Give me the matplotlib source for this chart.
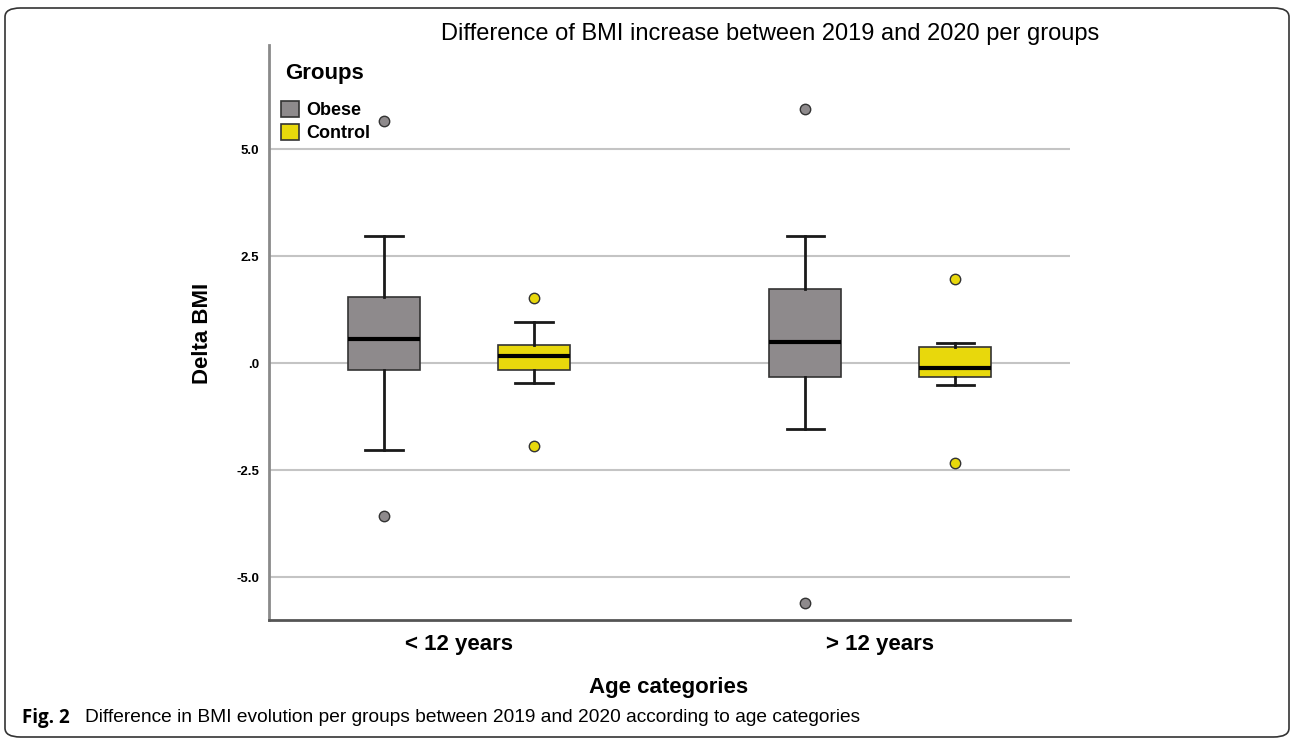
import numpy as np
import matplotlib
matplotlib.use("Agg")
import matplotlib.pyplot as plt
from matplotlib.patches import FancyBboxPatch, Patch

# box statistics read per age category and group
categories = ["< 12 years", "> 12 years"]
groups = ["Obese", "Control"]
group_colors = ["#8e8a8c", "#e8d80c"]

obese_whislo = [-2.03, -1.54]
obese_q1 = [-0.16, -0.33]
obese_med = [0.56, 0.49]
obese_q3 = [1.54, 1.73]
obese_whishi = [2.97, 2.97]
obese_fliers = [[5.65, -3.57], [5.93, -5.61]]

control_whislo = [-0.47, -0.51]
control_q1 = [-0.16, -0.33]
control_med = [0.16, -0.12]
control_q3 = [0.42, 0.37]
control_whishi = [0.96, 0.47]
control_fliers = [[1.52, -1.94], [1.96, -2.34]]

yticks = [-5.0, -2.5, 0.0, 2.5, 5.0]
ytick_labels = ["-5.0", "-2.5", ".0", "2.5", "5.0"]

narrow = ["Liberation Sans Narrow", "Liberation Sans", "DejaVu Sans"]
plt.rcParams["font.family"] = ["Liberation Sans", "DejaVu Sans"]

W, H = 1290, 739
fig = plt.figure(figsize=(W / 100, H / 100), dpi=100)
ax = fig.add_axes([269 / W, 1 - 620 / H, 801 / W, 575 / H])

def stats(whislo, q1, med, q3, whishi, fliers):
    out = []
    for i in range(len(categories)):
        out.append(dict(whislo=whislo[i], q1=q1[i], med=med[i], q3=q3[i],
                        whishi=whishi[i], fliers=fliers[i]))
    return out

all_stats = [
    stats(obese_whislo, obese_q1, obese_med, obese_q3, obese_whishi, obese_fliers),
    stats(control_whislo, control_q1, control_med, control_q3, control_whishi, control_fliers),
]

offset = 0.178
width = 0.171
for g, (st, col) in enumerate(zip(all_stats, group_colors)):
    pos = np.arange(len(categories)) + (-offset if g == 0 else offset)
    ax.bxp(st, positions=pos, widths=width, patch_artist=True,
           showfliers=True,
           boxprops=dict(facecolor=col, edgecolor="#333333", linewidth=1.2),
           medianprops=dict(color="black", linewidth=3),
           whiskerprops=dict(color="#1a1a1a", linewidth=2),
           capprops=dict(color="#1a1a1a", linewidth=2),
           capwidths=width * 0.52,
           flierprops=dict(marker="o", markerfacecolor=col, markeredgecolor="#333333",
                           markersize=7.5, markeredgewidth=1.0))

ax.set_xlim(-0.451, 1.450)
ax.set_ylim(-6.0, 7.43)
ax.set_yticks(yticks)
ax.set_yticklabels(ytick_labels, fontweight="bold", fontsize=9.5, family=narrow)
ax.tick_params(axis="y", length=0, pad=7)
ax.set_xticks(range(len(categories)))
ax.set_xticklabels(categories, fontweight="bold", fontsize=16)
ax.tick_params(axis="x", length=0, pad=10)
ax.yaxis.grid(True, color="#c4c4c4", linewidth=1.5)
ax.set_axisbelow(True)

for s in ["top", "right"]:
    ax.spines[s].set_visible(False)
ax.spines["left"].set_color("#8a8a8a")
ax.spines["left"].set_linewidth(2)
ax.spines["bottom"].set_color("#555555")
ax.spines["bottom"].set_linewidth(2)

fig.text(203 / W, 1 - 333 / H, "Delta BMI", rotation=90, ha="center", va="center",
         fontweight="bold", fontsize=16)
fig.text(669 / W, 1 - 688 / H, "Age categories", ha="center", va="center",
         fontweight="bold", fontsize=16)
fig.text(770 / W, 1 - 34 / H, "Difference of BMI increase between 2019 and 2020 per groups",
         ha="center", va="center", fontsize=17)

# legend: title drawn separately so it can sit higher above the entries
fig.text(285 / W, 1 - 73 / H, "Groups", ha="left", va="center",
         fontweight="bold", fontsize=16)
handles = [Patch(facecolor=c, edgecolor="#333333", linewidth=1.2, label=l)
           for c, l in zip(group_colors, groups)]
leg = ax.legend(handles=handles, loc="upper left",
                bbox_to_anchor=(281 / W, 1 - 101 / H), bbox_transform=fig.transFigure,
                frameon=False, prop=dict(weight="bold", size=13),
                handlelength=1.0, handleheight=1.0, handletextpad=0.4,
                labelspacing=0.25, borderaxespad=0, borderpad=0)

# caption beneath the plot
fig.text(22 / W, 1 - 718 / H, "Fig. 2", fontweight="bold", fontsize=13.5,
         va="center", family=["Open Sans", "DejaVu Sans"])
fig.text(85 / W, 1 - 718 / H,
         "Difference in BMI evolution per groups between 2019 and 2020 according to age categories",
         fontsize=13.8, va="center", family=narrow)

frame = FancyBboxPatch((5 / W, 2 / H), 1284 / W, 729 / H,
                       boxstyle="round,pad=0,rounding_size=0.012",
                       transform=fig.transFigure, fill=False,
                       edgecolor="#333333", linewidth=1.2)
fig.patches.append(frame)

fig.savefig("out.png", dpi=100)
